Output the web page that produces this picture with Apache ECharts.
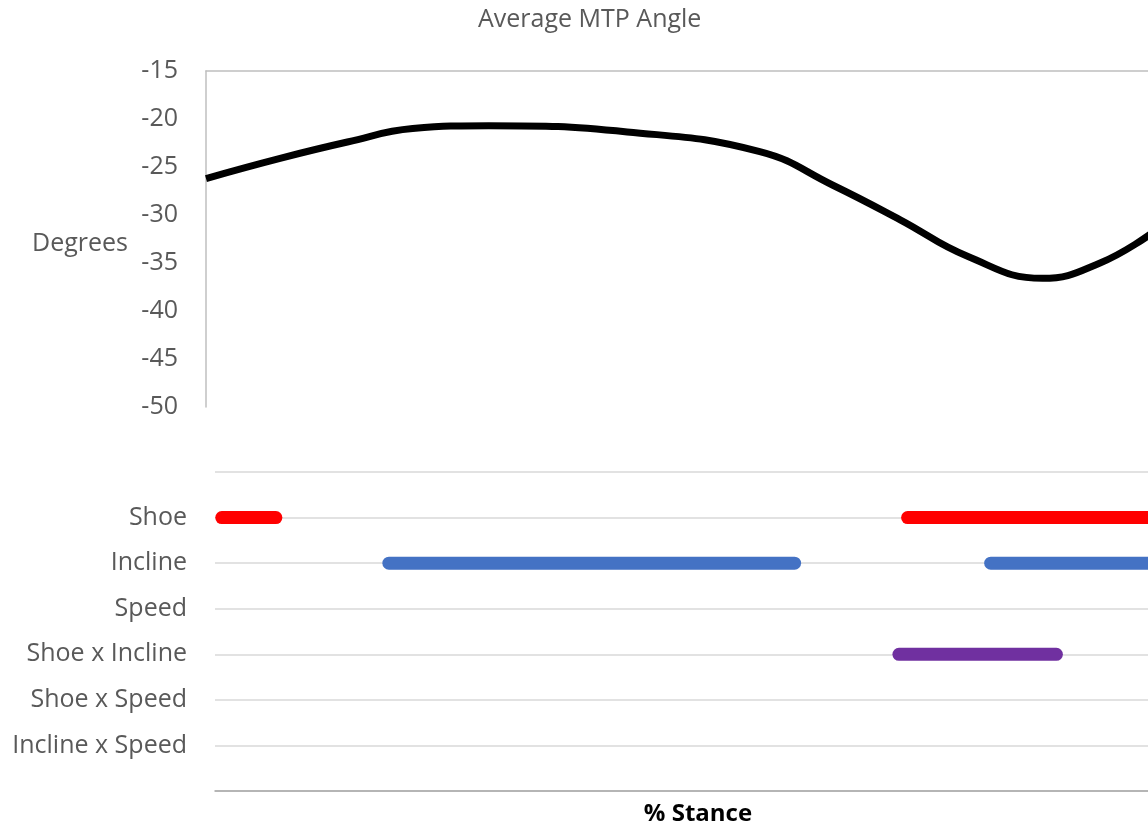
<!DOCTYPE html>
<html>
<head>
<meta charset="utf-8">
<script src="https://cdn.jsdelivr.net/npm/echarts@6/dist/echarts.min.js"></script>
<style>
html,body{margin:0;padding:0;background:#fff;}
#chart{width:1148px;height:829px;}
</style>
</head>
<body>
<div id="chart"></div>
<script>
// % stance positions and average MTP angle (degrees)
const stancePct = [0, 7.6, 14.5, 21.2, 29, 43.2, 56.8, 64.3, 71.2, 78.1, 85.8, 91.7, 97];
const mtpAngle  = [-26.2, -24.1, -22.4, -21.0, -20.7, -21.35, -23.4, -26.9, -30.5, -34.3, -36.6, -35.0, -31.9];
const angleTicks = [-50, -45, -40, -35, -30, -25, -20, -15];

// significance factors (rows) and significant % stance ranges
const factorLabels = ['Shoe', 'Incline', 'Speed', 'Shoe x Incline', 'Shoe x Speed', 'Incline x Speed'];
const shoeRanges = [[0.7, 6.3], [71.7, 100]];
const inclineRanges = [[18, 60], [80.3, 100]];
const shoeInclineRanges = [[70.8, 87.1]];

const textColor = '#595959';
const font = 'Open Sans';

function rangeSeries(ranges, row, color) {
  return ranges.map(r => ({
    type: 'line',
    xAxisIndex: 1,
    yAxisIndex: 1,
    symbol: 'none',
    clip: true,
    silent: true,
    data: [[r[0], row], [r[1], row]],
    lineStyle: { color: color, width: 13, cap: 'round' }
  }));
}

const chart = echarts.init(document.getElementById('chart'));
const option = {
  animation: false,
  backgroundColor: '#fff',
  title: {
    text: 'Average MTP Angle',
    left: 473,
    top: 2,
    textStyle: { color: textColor, fontFamily: font, fontSize: 25, fontWeight: 'normal' }
  },
  grid: [
    { left: 206, top: 71, width: 975, height: 336, outerBoundsMode: 'none', containLabel: false },
    { left: 215, top: 472, width: 966, height: 319, outerBoundsMode: 'none', containLabel: false }
  ],
  xAxis: [
    {
      gridIndex: 0, type: 'value', min: 0, max: 100, position: 'top',
      axisLine: { show: true, onZero: false, lineStyle: { color: '#bfbfbf', width: 1.5 } },
      axisTick: { show: false }, axisLabel: { show: false }, splitLine: { show: false }
    },
    {
      gridIndex: 1, type: 'value', min: 0, max: 100, position: 'bottom',
      name: '% Stance', nameLocation: 'middle', nameGap: 11,
      nameTextStyle: { color: '#000', fontFamily: font, fontSize: 24, fontWeight: 'bold' },
      axisLine: { show: true, onZero: false, lineStyle: { color: '#a6a6a6', width: 1.5 } },
      axisTick: { show: false }, axisLabel: { show: false }, splitLine: { show: false }
    }
  ],
  yAxis: [
    {
      gridIndex: 0, type: 'value', min: angleTicks[0], max: angleTicks[angleTicks.length - 1], interval: 5,
      name: '{d|Degrees}', nameLocation: 'middle', nameRotate: 0, nameGap: 78,
      nameTextStyle: {
        color: textColor, fontFamily: font, fontSize: 25, align: 'right',
        rich: { d: { color: textColor, fontFamily: font, fontSize: 25, padding: [10, 0, 0, 0] } }
      },
      axisLine: { show: true, lineStyle: { color: '#bfbfbf', width: 1.5 } },
      axisTick: { show: false },
      axisLabel: { color: textColor, fontFamily: font, fontSize: 25, margin: 28 },
      splitLine: { show: false }
    },
    {
      gridIndex: 1, type: 'value', min: 0, max: factorLabels.length + 1, interval: 1, inverse: true,
      axisLine: { show: false }, axisTick: { show: false },
      axisLabel: {
        color: textColor, fontFamily: font, fontSize: 25, margin: 28,
        formatter: v => factorLabels[v - 1] || ''
      },
      splitLine: { show: true, lineStyle: { color: '#d9d9d9', width: 1.5 } }
    }
  ],
  series: [
    {
      type: 'line', xAxisIndex: 0, yAxisIndex: 0, symbol: 'none', smooth: 0.45, clip: true,
      data: stancePct.map((x, i) => [x, mtpAngle[i]]),
      lineStyle: { color: '#000', width: 7 }
    },
    ...rangeSeries(shoeRanges, 1, '#ff0000'),
    ...rangeSeries(inclineRanges, 2, '#4472c4'),
    ...rangeSeries(shoeInclineRanges, 4, '#7030a0')
  ]
};
chart.setOption(option);
</script>
</body>
</html>
